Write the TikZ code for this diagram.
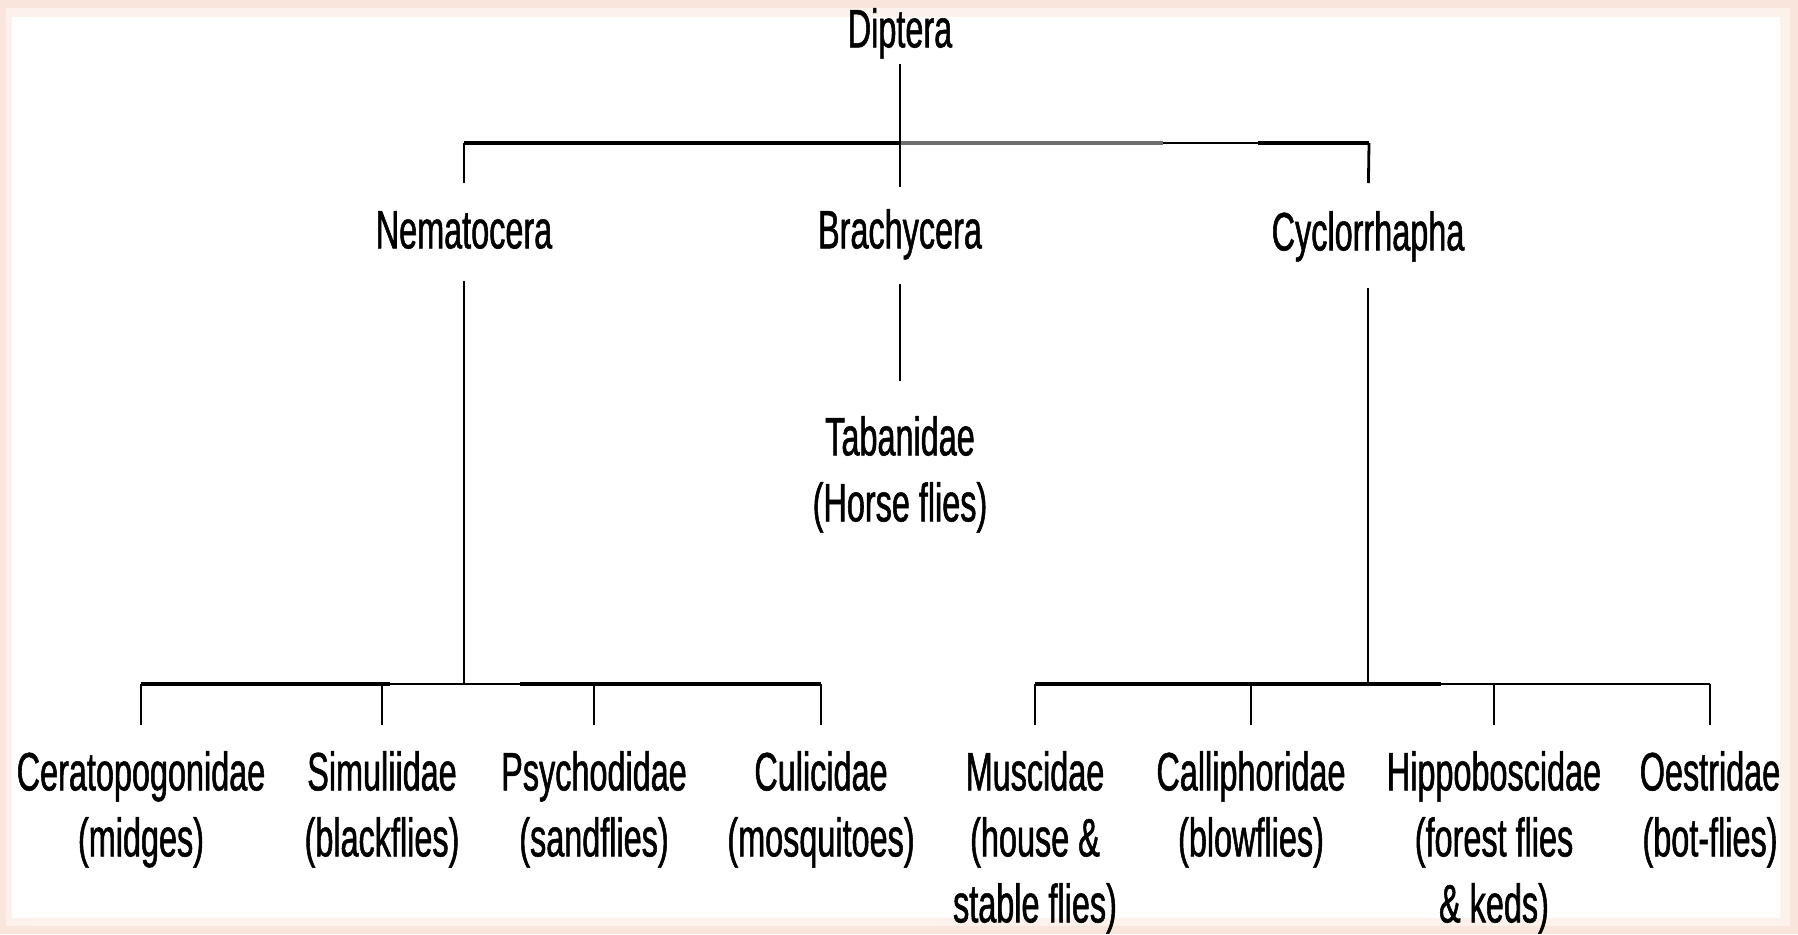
\documentclass[tikz,border=0pt]{standalone}
\usepackage{fontspec}
\setmainfont{Liberation Sans}[FakeStretch=0.6,FakeBold=1]
\definecolor{edgepinkA}{RGB}{250,229,220}
\definecolor{edgepinkB}{RGB}{253,241,236}
\definecolor{barmid}{RGB}{110,110,110}
\begin{document}
\begin{tikzpicture}[x=1pt,y=-1pt,
  lbl/.style={inner sep=0pt, font=\fontsize{54}{66}\selectfont, align=center, anchor=north},
  vline/.style={line width=2.8pt, black},
  hbar/.style={line width=4.5pt, black},
  hthin/.style={line width=2pt, black},
  hgray/.style={line width=4pt, barmid}]
% background frame
\useasboundingbox (0,0) rectangle (1798,934);
\fill[edgepinkA] (0,0) rectangle (1798,934);
\fill[edgepinkB] (6,8) rectangle (1790,926);
\fill[white] (12,17) rectangle (1780,918);

% nodes (anchor north = first baseline - 39)
\node[lbl] (dip) at (900,8) {Diptera};
\node[lbl] (nem) at (464,211) {Nematocera};
\node[lbl] (bra) at (900,209) {Brachycera};
\node[lbl] (cyc) at (1368,211) {Cyclorrhapha};
\node[lbl] (tab) at (900,416) {Tabanidae\\(Horse flies)};
\node[lbl] (cer) at (141,751) {Ceratopogonidae\\(midges)};
\node[lbl] (sim) at (382,751) {Simuliidae\\(blackflies)};
\node[lbl] (psy) at (594,751) {Psychodidae\\(sandflies)};
\node[lbl] (cul) at (821,751) {Culicidae\\(mosquitoes)};
\node[lbl] (mus) at (1035,751) {Muscidae\\(house \&\\stable flies)};
\node[lbl] (cal) at (1251,751) {Calliphoridae\\(blowflies)};
\node[lbl] (hip) at (1494,751) {Hippoboscidae\\(forest flies\\\& keds)};
\node[lbl] (oes) at (1710,751) {Oestridae\\(bot-flies)};

% junction coordinates
\coordinate (tL) at (464,143);
\coordinate (tM) at (900,143);
\coordinate (tG) at (1163,143);
\coordinate (tT) at (1258,143);
\coordinate (tR) at (1369,143);

\coordinate (b1) at (141,684);
\coordinate (b1a) at (390,684);
\coordinate (bN) at (464,684);
\coordinate (b3a) at (520,684);
\coordinate (b4) at (821,684);

\coordinate (c1) at (1035,684);
\coordinate (cC) at (1368,684);
\coordinate (c3a) at (1441,684);
\coordinate (c4) at (1710,684);

% top bar
\draw[hbar] (tL) -- (tM);
\draw[hgray] (tM) -- (tG);
\draw[hthin] (tG) -- (tT);
\draw[hbar] (tT) -- (tR);
\draw[vline, shorten <=5pt, shorten >=22pt] (dip.south) -- (bra.north);
\draw[vline, shorten >=28pt] (tL) -- (nem.north);
\draw[vline, shorten >=28pt] (tR) -- (cyc.north);

% Brachycera branch
\draw[vline, shorten <=24pt, shorten >=35pt] (bra.south) -- (tab.north);

% Nematocera branch
\draw[vline, shorten <=32pt] (nem.south) -- (bN);
\draw[hbar] (b1) -- (b1a);
\draw[hthin] (b1a) -- (b3a);
\draw[hbar] (b3a) -- (b4);
\draw[vline, shorten >=26pt] (b1) -- (cer.north);
\draw[vline, shorten >=26pt] (sim.north |- b1) -- (sim.north);
\draw[vline, shorten >=26pt] (psy.north |- b1) -- (psy.north);
\draw[vline, shorten >=26pt] (b4) -- (cul.north);

% Cyclorrhapha branch
\draw[vline, shorten <=26pt] (cyc.south) -- (cC);
\draw[hbar] (c1) -- (c3a);
\draw[hthin] (c3a) -- (c4);
\draw[vline, shorten >=26pt] (c1) -- (mus.north);
\draw[vline, shorten >=26pt] (cal.north |- c1) -- (cal.north);
\draw[vline, shorten >=26pt] (hip.north |- c1) -- (hip.north);
\draw[vline, shorten >=26pt] (c4) -- (oes.north);
\end{tikzpicture}
\end{document}
